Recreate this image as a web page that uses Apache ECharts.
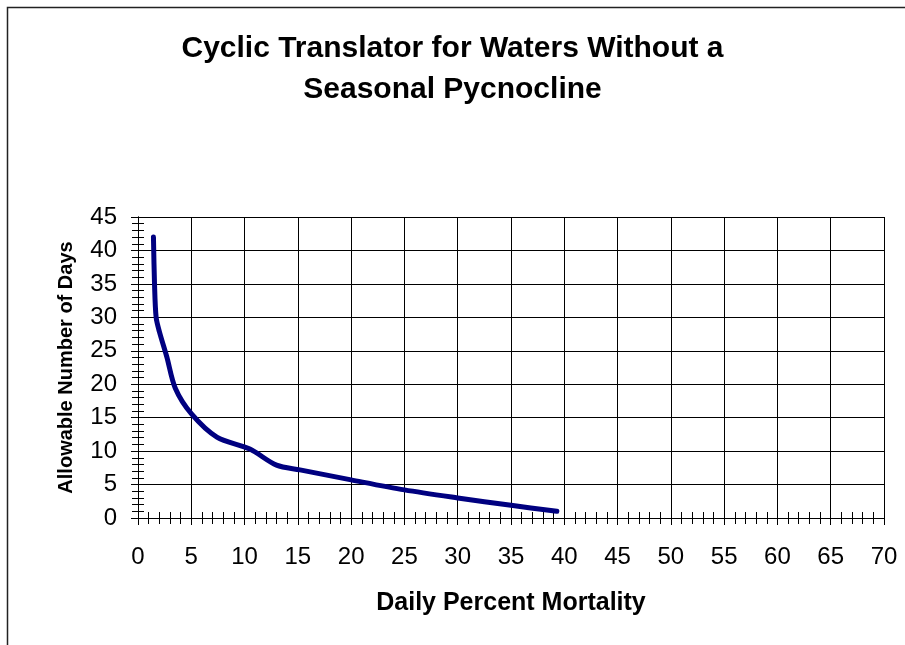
<!DOCTYPE html>
<html>
<head>
<meta charset="utf-8">
<script src="https://cdn.jsdelivr.net/npm/echarts@6/dist/echarts.min.js"></script>
<style>
html,body{margin:0;padding:0;background:#fff;}
#chart{width:905px;height:645px;}
</style>
</head>
<body>
<div id="chart"></div>
<script>
// Data
var mortality = [1.45, 1.55, 1.7, 2.0, 2.7, 3.5, 5.0, 7.4, 10.5, 13.0, 15.2, 20.0, 25.0, 30.0, 35.0, 39.3];
var allowableDays = [42.0, 35.0, 30.0, 27.9, 24.1, 19.4, 15.6, 12.1, 10.3, 7.9, 7.2, 5.7, 4.2, 3.0, 1.9, 1.0];
var xTicks = {min: 0, max: 70, interval: 5};
var yTicks = {min: 0, max: 45, interval: 5};
var titleText = 'Cyclic Translator for Waters Without a\nSeasonal Pycnocline';
var xName = 'Daily Percent Mortality';
var yName = 'Allowable Number of Days';

var FONT = 'Liberation Sans, Arial, sans-serif';
var points = mortality.map(function (x, i) { return [x, allowableDays[i]]; });

function xAxisDef(main) {
  return {
    type: 'value', position: 'bottom', offset: 0, min: xTicks.min, max: xTicks.max, interval: xTicks.interval,
    axisLine: {show: true, onZero: false, lineStyle: {color: '#000', width: 1}},
    axisTick: {show: true, inside: !main, length: 7, lineStyle: {color: '#000', width: 1}},
    minorTick: {show: true, splitNumber: 5, length: 6, lineStyle: {color: '#000', width: 1}},
    axisLabel: {show: main, margin: 27, color: '#000', fontSize: 24, fontFamily: FONT},
    splitLine: {show: main, lineStyle: {color: '#000', width: 1}},
    name: main ? xName : '', nameLocation: 'middle', nameGap: 73,
    nameTextStyle: {color: '#000', fontSize: 25, fontWeight: 'bold', fontFamily: FONT}
  };
}
function yAxisDef(main) {
  return {
    type: 'value', position: 'left', offset: 0, min: yTicks.min, max: yTicks.max, interval: yTicks.interval,
    axisLine: {show: true, onZero: false, lineStyle: {color: '#000', width: 1}},
    axisTick: {show: true, inside: !main, length: 7, lineStyle: {color: '#000', width: 1}},
    minorTick: {show: true, splitNumber: 5, length: 6, lineStyle: {color: '#000', width: 1}},
    axisLabel: {show: main, margin: 21, color: '#000', fontSize: 24, fontFamily: FONT},
    splitLine: {show: main, lineStyle: {color: '#000', width: 1}},
    name: main ? yName : '', nameLocation: 'middle', nameGap: 62,
    nameTextStyle: {color: '#000', fontSize: 20, fontWeight: 'bold', fontFamily: FONT}
  };
}

var chart = echarts.init(document.getElementById('chart'), null, {renderer: 'canvas'});
chart.setOption({
  backgroundColor: '#fff',
  animation: false,
  graphic: [{
    type: 'rect', left: 5, top: 5, z: -1,
    shape: {x: 0, y: 0, width: 1000, height: 1000},
    style: {fill: 'none', stroke: '#222', lineWidth: 1.5}
  }],
  title: {
    text: titleText, left: 'center', top: 23,
    textStyle: {color: '#000', fontSize: 30, fontWeight: 'bold', fontFamily: FONT, lineHeight: 41}
  },
  grid: {left: 138, right: 21, top: 217, bottom: 127, containLabel: false},
  xAxis: [xAxisDef(true), xAxisDef(false)],
  yAxis: [yAxisDef(true), yAxisDef(false)],
  series: [{
    type: 'line', xAxisIndex: 0, yAxisIndex: 0, data: points,
    smooth: 0.3, showSymbol: false, symbol: 'none',
    lineStyle: {color: '#000080', width: 5, cap: 'round', join: 'round'}
  }]
});
</script>
</body>
</html>
